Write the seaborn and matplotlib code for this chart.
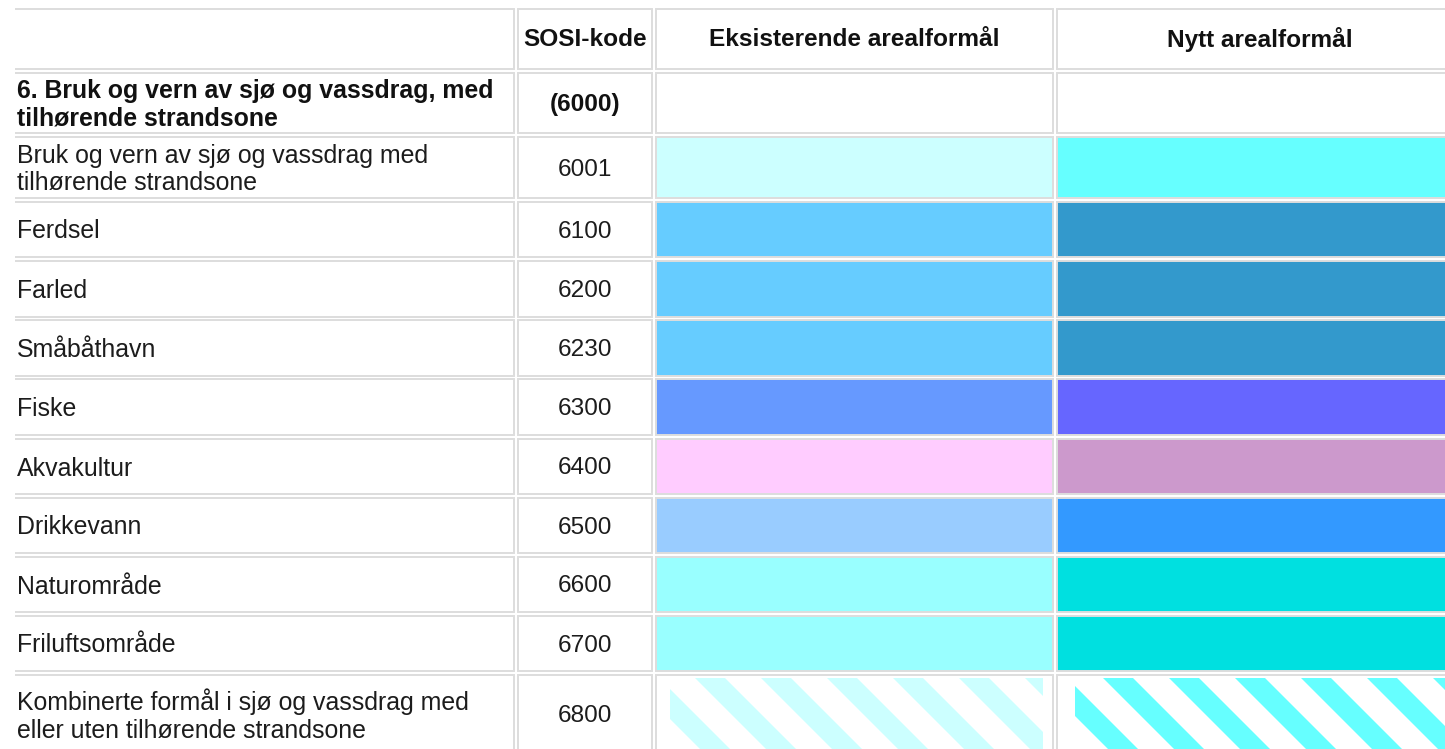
import matplotlib
matplotlib.use("Agg")
import matplotlib.pyplot as plt
from matplotlib.patches import Rectangle, Polygon
import seaborn as sns

# table content
headers = ["", "SOSI-kode", "Eksisterende arealformål", "Nytt arealformål"]
labels = [
    "6. Bruk og vern av sjø og vassdrag, med\ntilhørende strandsone",
    "Bruk og vern av sjø og vassdrag med\ntilhørende strandsone",
    "Ferdsel",
    "Farled",
    "Småbåthavn",
    "Fiske",
    "Akvakultur",
    "Drikkevann",
    "Naturområde",
    "Friluftsområde",
    "Kombinerte formål i sjø og vassdrag med\neller uten tilhørende strandsone",
]
codes = ["(6000)", "6001", "6100", "6200", "6230", "6300", "6400", "6500", "6600", "6700", "6800"]
existing_colors = [None, "#ccffff", "#66ccff", "#66ccff", "#66ccff", "#6699ff",
                   "#ffccff", "#99ccff", "#99ffff", "#99ffff", "#ccffff"]
new_colors = [None, "#66ffff", "#3399cc", "#3399cc", "#3399cc", "#6666ff",
              "#cc99cc", "#3399ff", "#00e0e0", "#00e0e0", "#66ffff"]
hatched = [False] * 10 + [True]

# layout (pixels)
col_left = [10, 518, 656, 1057]
col_right = [514, 652, 1053, 1462]
row_top = [9, 73, 137, 202, 261, 320, 379, 439, 498, 557, 616, 675]
row_bot = [69, 133, 198, 257, 317, 376, 435, 494, 553, 612, 671, 770]
border = "#dddddd"
txt = "#1c1c1c"

sns.set_theme(style="white")
plt.rcParams["font.family"] = ["Liberation Sans", "DejaVu Sans"]

fig = plt.figure(figsize=(14.45, 7.49), dpi=100)
ax = fig.add_axes([15 / 1445, 0, 1 - 15 / 1445, 1])
ax.set_xlim(15, 1445)
ax.set_ylim(749, 0)
ax.axis("off")


def cell(ci, ri, color="white"):
    x0, x1 = col_left[ci], col_right[ci]
    y0, y1 = row_top[ri], row_bot[ri]
    ax.add_patch(Rectangle((x0, y0), x1 - x0, y1 - y0, facecolor=color,
                           edgecolor=border, linewidth=1.4))


def stripes(x0, x1, y0, y1, color, phase, period=66, width=30):
    clip = Rectangle((x0, y0), x1 - x0, y1 - y0, transform=ax.transData)
    c = phase - period * ((phase - (x0 - y1)) // period + 1)
    while c < x1 - y0:
        poly = Polygon([(c + y0, y0), (c + width + y0, y0),
                        (c + width + y1, y1), (c + y1, y1)],
                       closed=True, facecolor=color, edgecolor="none")
        ax.add_patch(poly)
        poly.set_clip_path(clip)
        c += period


# header row
for ci, h in enumerate(headers):
    cell(ci, 0)
    if h:
        ax.text((col_left[ci] + col_right[ci]) / 2, 40, h,
                ha="center", va="center", fontsize=17.6, fontweight="bold", color="#111111")

# body rows
for i, lab in enumerate(labels):
    ri = i + 1
    yc = (row_top[ri] + row_bot[ri]) / 2
    if ri == 11:
        yc = 714
    bold = i == 0
    for ci in range(4):
        cell(ci, ri)
    ax.text(17, yc + 2, lab, ha="left", va="center", fontsize=17.9, linespacing=1.2,
            fontweight="bold" if bold else "normal", color="#111111" if bold else txt)
    ax.text((col_left[1] + col_right[1]) / 2, yc + 2, codes[i], ha="center", va="center",
            fontsize=17.6, fontweight="bold" if bold else "normal",
            color="#111111" if bold else txt)
    if existing_colors[i] is None:
        continue
    if hatched[i]:
        stripes(670, 1043, 678, 770, existing_colors[i], phase=17)
        stripes(1075, 1470, 678, 770, new_colors[i], phase=29)
    else:
        cell(2, ri, existing_colors[i])
        cell(3, ri, new_colors[i])

fig.savefig("out.png", dpi=100, facecolor="white")
